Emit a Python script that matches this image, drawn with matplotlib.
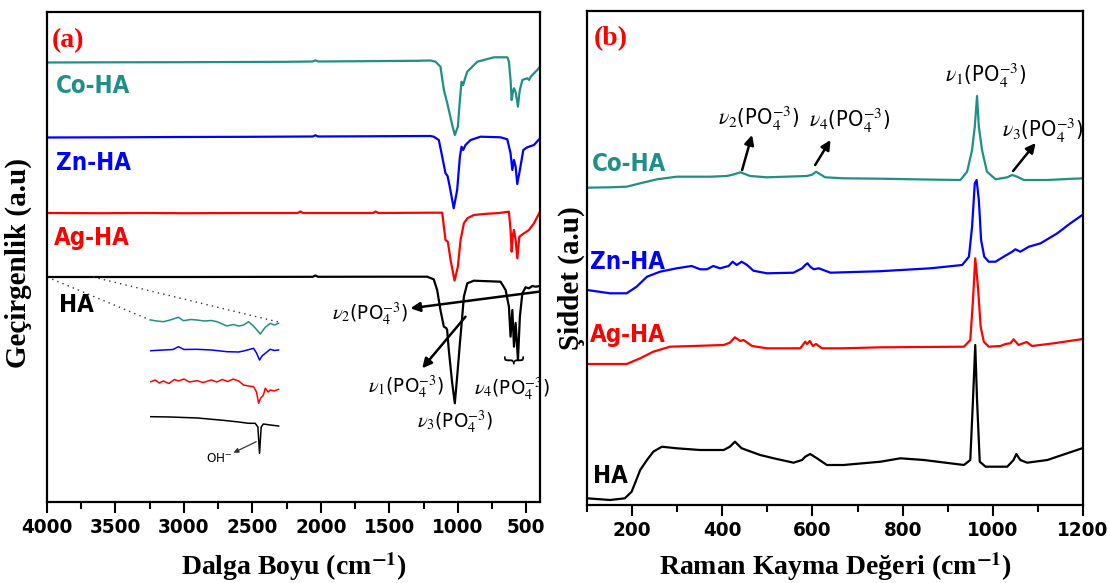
import matplotlib
matplotlib.use('Agg')
import matplotlib.pyplot as plt
from matplotlib import font_manager as fm
from matplotlib.ticker import MultipleLocator, FixedLocator

# ---------------- Panel (a): FTIR ----------------
ftir_co_x = [4000, 3500, 3000, 2600, 2250, 2060, 2040, 2020, 1800, 1500, 1300, 1200, 1163, 1127, 1102, 1077,
             1041, 1022, 1000, 985, 973, 961, 951, 931, 858, 737, 660, 639, 627, 615, 607, 598, 590, 578, 561,
             552, 547, 529, 510, 493, 480, 468, 444, 420, 400]
ftir_co_y = [439.5, 439.7, 439.8, 440, 440.2, 440.5, 441.7, 440.5, 440.7, 441, 441.2, 441.5, 440.3, 435.3, 412,
             398.7, 377, 367, 375.3, 402, 420.3, 417, 422, 430.3, 440.3, 444.7, 444.7, 444.7, 440.3, 422, 402,
             410, 413.7, 410, 395.3, 407, 412, 422, 423, 423.7, 422, 425.3, 428.7, 432, 435.3]

ftir_zn_x = [4000, 3500, 3000, 2500, 2060, 2040, 2020, 1500, 1200, 1176, 1139, 1114, 1090, 1075, 1059, 1030,
             1005, 985, 973, 961, 944, 907, 834, 688, 639, 615, 602, 590, 578, 566, 547, 522, 493, 444, 400]
ftir_zn_y = [364.5, 364.7, 365, 365.2, 365.5, 366.7, 365.5, 365.8, 366, 365.3, 362, 345.3, 328.7, 326, 315.3,
             293.7, 312, 345.3, 355.3, 352, 357, 362, 365.3, 364.7, 362.7, 348.7, 332, 342, 335.3, 318, 332,
             352, 354.7, 357, 363.7]

ftir_ag_x = [4000, 3600, 3300, 3000, 2500, 2170, 2150, 2130, 1800, 1620, 1600, 1580, 1200, 1114, 1102, 1090,
             1073, 1053, 1024, 1000, 980, 956, 931, 883, 810, 700, 627, 615, 607, 598, 590, 578, 566, 551, 517,
             481, 444, 432, 400]
ftir_ag_y = [289, 288.8, 289, 288.8, 289, 289, 290.5, 289, 289, 289, 290.5, 289, 289.3, 289.3, 275.3, 262,
             260.3, 242, 221.3, 235.3, 262, 278.7, 283.7, 287, 288, 289, 290.3, 272, 250.3, 267, 272, 262,
             243.7, 265.3, 268.7, 272, 278.7, 282, 290.3]

ftir_ha_x = [4000, 3000, 2060, 2040, 2020, 1500, 1224, 1176, 1151, 1127, 1102, 1085, 1078, 1066, 1041, 1022,
             1005, 985, 968, 956, 931, 883, 688, 651, 627, 615, 602, 590, 578, 561, 547, 529, 505, 481, 456,
             432, 400]
ftir_ha_y = [225, 225, 225.2, 226.5, 225.2, 225.3, 225.3, 222.7, 212, 192, 175.3, 174, 172, 152, 118.7, 98.7,
             125.3, 158.7, 185.3, 205.3, 218.7, 221.3, 220.3, 212, 195.3, 165.3, 192, 155.3, 179, 142, 185.3,
             208.7, 214.7, 213.7, 216, 215.3, 216]

# inset (magnified OH region, drawn in panel coordinates)
ins_co_x = [3242, 3200, 3150, 3100, 3040, 3003, 2950, 2905, 2850, 2800, 2759, 2720, 2686, 2640, 2600, 2565,
            2528, 2492, 2443, 2406, 2370, 2340, 2309]
ins_co_y = [182, 181, 180.3, 182, 184.7, 181.3, 182.5, 182, 181, 181.5, 180.3, 178, 176, 177.5, 176, 177,
            180.3, 176, 168, 174.7, 178.7, 177, 178.7]
ins_zn_x = [3242, 3150, 3080, 3040, 3000, 2905, 2800, 2686, 2600, 2565, 2492, 2470, 2448, 2430, 2406, 2370,
            2340, 2309]
ins_zn_y = [151.3, 152, 152.5, 155.3, 152.5, 152.7, 152, 150.3, 150, 151, 153.7, 149, 142, 146, 148.7, 152.7,
            151.5, 152]
ins_ag_x = [3242, 3210, 3180, 3150, 3110, 3070, 3040, 3000, 2960, 2905, 2860, 2800, 2760, 2720, 2680, 2640,
            2600, 2565, 2528, 2492, 2470, 2455, 2440, 2420, 2406, 2385, 2370, 2340, 2309]
ins_ag_y = [120.3, 122, 119, 121, 118.5, 122.5, 121, 123, 120, 121.3, 119.5, 122, 120, 122.5, 120.5, 123,
            121, 117, 116, 115.3, 110, 98.7, 104, 107, 113.7, 110, 112, 111, 112.7]
ins_ha_x = [3242, 3100, 2900, 2700, 2600, 2528, 2480, 2460, 2448, 2436, 2420, 2370, 2309]
ins_ha_y = [85.3, 85, 84, 81.5, 80, 78.7, 78.7, 75, 48.7, 75, 78, 77, 76]

# dotted zoom guides (from HA trace to inset)
guide1_x = [4000, 3247]
guide1_y = [225, 182]
guide2_x = [3664, 2311]
guide2_y = [225, 180]

# ---------------- Panel (b): Raman ----------------
ram_co_x = [100, 151, 188, 218, 255, 299, 373, 410, 425, 440, 462, 499, 588, 600, 608, 620, 628, 669, 751,
            850, 928, 943, 954, 960, 965, 969, 976, 987, 1006, 1032, 1043, 1054, 1069, 1121, 1165, 1200]
ram_co_y = [317.3, 317.7, 318.3, 321.7, 325.7, 328.3, 328.3, 329, 330.5, 332.7, 329, 327.7, 329, 330.5,
            333.3, 330, 327.7, 326.7, 326.3, 325.5, 325, 333.3, 355, 378.3, 409, 378.3, 355, 333.3, 325.7,
            327.7, 330, 328.3, 325, 325, 326, 326.7]

ram_zn_x = [100, 151, 188, 210, 233, 262, 299, 332, 351, 366, 380, 395, 414, 423, 432, 443, 455, 469, 499,
            558, 577, 584, 589, 595, 603, 614, 640, 751, 862, 932, 947, 954, 960, 964, 969, 974, 981, 991,
            1006, 1024, 1043, 1050, 1061, 1080, 1106, 1143, 1172, 1200]
ram_zn_y = [215, 211.7, 211.7, 218.3, 228.3, 233.3, 236.7, 239, 235.7, 235.7, 239, 236.7, 239, 243.3, 240,
            243.3, 240, 234.3, 231.7, 232.3, 236.7, 240, 241.7, 238.3, 235.7, 236.7, 232.3, 233.8, 236.7,
            240, 248.3, 278.3, 321.7, 325, 305, 265, 248.3, 243.3, 243.3, 248.3, 253.3, 255.7, 253.3, 258.3,
            261.7, 271.7, 281.7, 290.5]

ram_ag_x = [100, 188, 218, 247, 284, 336, 403, 417, 428, 440, 447, 466, 499, 573, 584, 588, 594, 601, 608,
            621, 669, 751, 936, 950, 956, 961, 967, 973, 980, 991, 1017, 1028, 1039, 1046, 1057, 1075, 1087,
            1135, 1200]
ram_ag_y = [141, 141, 146.7, 153.3, 158.3, 159, 160, 162.3, 167.7, 164, 165, 159, 156.7, 156.7, 163.3, 161,
            164, 159, 161, 156.7, 156.7, 157.7, 158.3, 165, 205, 246.7, 218.3, 178.3, 163.3, 158.3, 159, 161,
            161.7, 165.7, 160, 163, 159, 161.7, 166]

ram_ha_x = [100, 151, 184, 199, 218, 233, 247, 266, 299, 351, 403, 417, 428, 443, 484, 514, 558, 577, 584,
            595, 610, 632, 669, 751, 795, 847, 936, 950, 956, 961, 965, 971, 984, 1032, 1046, 1052, 1061, 1076,
            1121, 1165, 1200]
ram_ha_y = [6.7, 5, 6.7, 13.3, 35, 45, 53.3, 58.3, 56.7, 55, 55, 58.3, 63.3, 56.7, 50, 46.7, 42.3, 45, 48.3,
            51, 46.7, 40, 40, 43.3, 46.7, 45, 40, 45, 105, 160, 105, 43.3, 38.3, 38.3, 45, 51, 45, 42.3, 45,
            51.7, 57]

samples = ['Co-HA', 'Zn-HA', 'Ag-HA', 'HA']
a_ticks = [4000, 3500, 3000, 2500, 2000, 1500, 1000, 500]
b_ticks = [200, 400, 600, 800, 1000, 1200]

TEAL = '#1f8f87'
colors = [TEAL, '#0000ff', '#ff0000', '#000000']

plt.rcParams['mathtext.fontset'] = 'stix'
SERIF = ['Liberation Serif', 'DejaVu Serif']

# pick a narrow sans if one is installed
_names = {f.name for f in fm.fontManager.ttflist}
_dvcond = [f for f in fm.fontManager.ttflist if f.name == 'DejaVu Sans' and 'Condensed' in f.fname]
if 'Liberation Sans Narrow' in _names:
    NARROW = dict(family='Liberation Sans Narrow')
    SCALE = 1.0
elif _dvcond:
    NARROW = dict(family='DejaVu Sans', stretch='condensed')
    SCALE = 0.92
else:
    NARROW = dict(family='Liberation Sans')
    SCALE = 0.86

fig = plt.figure(figsize=(11.09, 5.83), dpi=100)
axa = fig.add_axes([0.04238, 0.13894, 0.44455, 0.84048])
axb = fig.add_axes([0.52931, 0.13379, 0.44725, 0.84734])

LW = 1.6
for x, y, c in zip([ftir_co_x, ftir_zn_x, ftir_ag_x, ftir_ha_x],
                   [ftir_co_y, ftir_zn_y, ftir_ag_y, ftir_ha_y], colors):
    axa.plot(x, y, color=c, lw=LW)
for x, y, c in zip([ins_co_x, ins_zn_x, ins_ag_x, ins_ha_x],
                   [ins_co_y, ins_zn_y, ins_ag_y, ins_ha_y], colors):
    axa.plot(x, y, color=c, lw=1.1)
axa.plot(guide1_x, guide1_y, color='#333333', lw=1.0, ls=(0, (1, 3)))
axa.plot(guide2_x, guide2_y, color='#333333', lw=1.0, ls=(0, (1, 3)))

for x, y, c in zip([ram_co_x, ram_zn_x, ram_ag_x, ram_ha_x],
                   [ram_co_y, ram_zn_y, ram_ag_y, ram_ha_y], colors):
    axb.plot(x, y, color=c, lw=LW)

axa.set_xlim(4000, 400)
axa.set_ylim(0, 490)
axb.set_xlim(100, 1200)
axb.set_ylim(0, 494)

for ax, ticks, minor in [(axa, a_ticks, 250), (axb, b_ticks, 100)]:
    ax.xaxis.set_major_locator(FixedLocator(ticks))
    ax.xaxis.set_minor_locator(MultipleLocator(minor))
    ax.set_yticks([])
    ax.tick_params(axis='x', which='major', direction='out', length=7.7, width=1.5, pad=4)
    ax.tick_params(axis='x', which='minor', direction='out', length=4.8, width=1.5)
    for sp in ax.spines.values():
        sp.set_linewidth(1.6)
    for lab in ax.get_xticklabels():
        lab.set_fontproperties(fm.FontProperties(weight='bold', size=16 * SCALE, **NARROW))

# axis labels
fig.text(293.5 / 1109, 1 - 567 / 583, 'Dalga Boyu (cm$^{\\mathbf{-1}}$)', ha='center', va='center',
         family=SERIF, fontweight='bold', fontsize=20)
fig.text(835 / 1109, 1 - 567 / 583, 'Raman Kayma Değeri (cm$^{\\mathbf{-1}}$)', ha='center', va='center',
         family=SERIF, fontweight='bold', fontsize=20)
fig.text(18 / 1109, 1 - 263 / 583, 'Geçirgenlik (a.u)', rotation=90, ha='center', va='center',
         family=SERIF, fontweight='bold', fontsize=21)
fig.text(571 / 1109, 1 - 278 / 583, 'Şiddet (a.u)', rotation=90, ha='center', va='center',
         family=SERIF, fontweight='bold', fontsize=21)

# panel tags
axa.text(3846, 461, '(a)', color='#ff0000', family=SERIF, fontweight='bold', fontsize=20,
         ha='center', va='center')
axb.text(153, 466, '(b)', color='#ff0000', family=SERIF, fontweight='bold', fontsize=20,
         ha='center', va='center')

# sample labels
a_lab_pos = [(3934, 409), (3934, 332), (3948, 257), (3912, 190)]
b_lab_pos = [(111, 334), (107, 236), (107, 163), (113, 22)]
LABFP = fm.FontProperties(weight='bold', size=18.8 * SCALE, **NARROW)
for name, c, pa, pb in zip(samples, colors, a_lab_pos, b_lab_pos):
    axa.text(pa[0], pa[1], name, color=c, fontproperties=LABFP, va='baseline')
    axb.text(pb[0], pb[1], name, color=c, fontproperties=LABFP, va='baseline')

aprops = dict(arrowstyle='-|>', lw=1.8, color='black', mutation_scale=14, shrinkA=0, shrinkB=0)
BA = fm.FontProperties(size=16 * SCALE, **NARROW)
BB = fm.FontProperties(size=17 * SCALE, **NARROW)

# panel (a) band labels
axa.text(1360, 182, r'$\nu_2$(PO$_4^{-3}$)', fontproperties=BA, ha='right', va='baseline')
axa.text(1653, 109, r'$\nu_1$(PO$_4^{-3}$)', fontproperties=BA, ha='left', va='baseline')
axa.text(1297, 74, r'$\nu_3$(PO$_4^{-3}$)', fontproperties=BA, ha='left', va='baseline')
axa.text(885, 107, r'$\nu_4$(PO$_4^{-3}$)', fontproperties=BA, ha='left', va='baseline')
axa.annotate('', xy=(1346, 193.7), xytext=(408, 210.3), arrowprops=aprops)
axa.annotate('', xy=(1260, 133.7), xytext=(944, 185.3), arrowprops=aprops)
axa.text(602, 145, '{', rotation=90, family='DejaVu Sans', fontsize=15, ha='center', va='center')
axa.text(2742, 43, 'OH$^{-}$', fontproperties=fm.FontProperties(size=10.5 * SCALE, **NARROW),
         ha='center', va='center')
axa.annotate('', xy=(2638, 49.3), xytext=(2472, 60.3),
             arrowprops=dict(arrowstyle='-|>', lw=0.9, color='#333333', mutation_scale=7,
                             shrinkA=0, shrinkB=0))

# panel (b) band labels
axb.text(895, 423, r'$\nu_1$(PO$_4^{-3}$)', fontproperties=BB, ha='left', va='baseline')
axb.text(390, 380, r'$\nu_2$(PO$_4^{-3}$)', fontproperties=BB, ha='left', va='baseline')
axb.text(592, 378, r'$\nu_4$(PO$_4^{-3}$)', fontproperties=BB, ha='left', va='baseline')
axb.text(1020, 368, r'$\nu_3$(PO$_4^{-3}$)', fontproperties=BB, ha='left', va='baseline')
axb.annotate('', xy=(466, 370), xytext=(444, 335), arrowprops=aprops)
axb.annotate('', xy=(640, 365), xytext=(606, 340), arrowprops=aprops)
axb.annotate('', xy=(1095, 362), xytext=(1045, 334), arrowprops=aprops)

fig.savefig('out.png', dpi=100)
